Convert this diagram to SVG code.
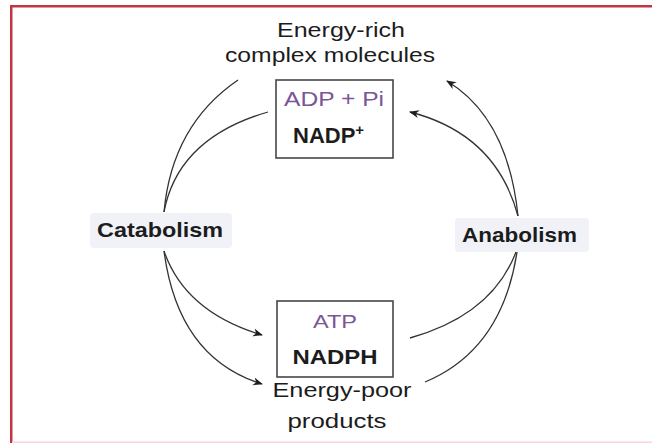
<svg xmlns="http://www.w3.org/2000/svg" width="652" height="443" viewBox="0 0 652 443">
  <style>
    .lbl { font-family: "Liberation Sans", Arial, sans-serif; fill: #1c1c1c; font-size: 20px; }
    .bold { font-weight: bold; font-size: 21px; }
    .purple { fill: #7a5696; }
    .box { fill: #ffffff; stroke: #474747; stroke-width: 1.6; }
    .hl { fill: #f0f2f8; }
    .conn { fill: none; stroke: #333333; stroke-width: 1.3; }
  </style>
  <defs>
    <marker id="arrow" markerUnits="userSpaceOnUse" markerWidth="11" markerHeight="9" refX="9" refY="4.5" orient="auto">
      <path d="M0,0.5 L10,4.5 L0,8.5 L3,4.5 Z" fill="#1e1e1e"/>
    </marker>
  </defs>

  <rect x="0" y="0" width="652" height="443" fill="#ffffff"/>
  <g id="frame">
    <rect x="10" y="5" width="642" height="2.5" fill="#c23644"/>
    <rect x="10" y="5" width="2.5" height="438" fill="#c23644"/>
    <rect x="12" y="441.5" width="640" height="1.5" fill="#f7d3da"/>
  </g>

  <g id="connectors">
    <path class="conn" d="M238,80 Q172,125 164,212"/>
    <path class="conn" d="M268,112 Q178,138 164,212"/>
    <path class="conn" d="M164,251 Q185,312 262,335" marker-end="url(#arrow)"/>
    <path class="conn" d="M164,251 Q178,358 262,384" marker-end="url(#arrow)"/>
    <path class="conn" d="M410,338 Q492,315 516,252"/>
    <path class="conn" d="M425,382 Q502,350 517,252"/>
    <path class="conn" d="M518,216 Q496,134 410,112" marker-end="url(#arrow)"/>
    <path class="conn" d="M518,216 Q508,118 447,81" marker-end="url(#arrow)"/>
  </g>

  <g id="energy-rich">
    <text class="lbl" x="341" y="37" text-anchor="middle" textLength="128" lengthAdjust="spacingAndGlyphs">Energy-rich</text>
    <text class="lbl" x="330" y="62" text-anchor="middle" textLength="210" lengthAdjust="spacingAndGlyphs">complex molecules</text>
  </g>

  <g id="adp-box">
    <rect class="box" x="276" y="80" width="117" height="78"/>
    <text class="lbl purple" x="334" y="106" text-anchor="middle" textLength="100" lengthAdjust="spacingAndGlyphs">ADP + Pi</text>
    <text class="lbl bold" x="293" y="143" style="font-size:22px">NADP<tspan style="font-size:15px" dy="-8">+</tspan></text>
  </g>

  <g id="catabolism">
    <rect class="hl" x="90" y="213" width="142" height="35" rx="4"/>
    <text class="lbl bold" x="97" y="237" textLength="126" lengthAdjust="spacingAndGlyphs">Catabolism</text>
  </g>

  <g id="anabolism">
    <rect class="hl" x="455" y="218" width="134" height="34" rx="4"/>
    <text class="lbl bold" x="462" y="242" textLength="115" lengthAdjust="spacingAndGlyphs">Anabolism</text>
  </g>

  <g id="atp-box">
    <rect class="box" x="277" y="301" width="116" height="76"/>
    <text class="lbl purple" x="335" y="328" text-anchor="middle" textLength="44" lengthAdjust="spacingAndGlyphs" style="font-size:18px">ATP</text>
    <text class="lbl bold" x="335" y="364" text-anchor="middle" textLength="85" lengthAdjust="spacingAndGlyphs">NADPH</text>
  </g>

  <g id="energy-poor">
    <text class="lbl" x="342" y="397" text-anchor="middle" textLength="139" lengthAdjust="spacingAndGlyphs">Energy-poor</text>
    <text class="lbl" x="337" y="428" text-anchor="middle" textLength="99" lengthAdjust="spacingAndGlyphs">products</text>
  </g>
</svg>
